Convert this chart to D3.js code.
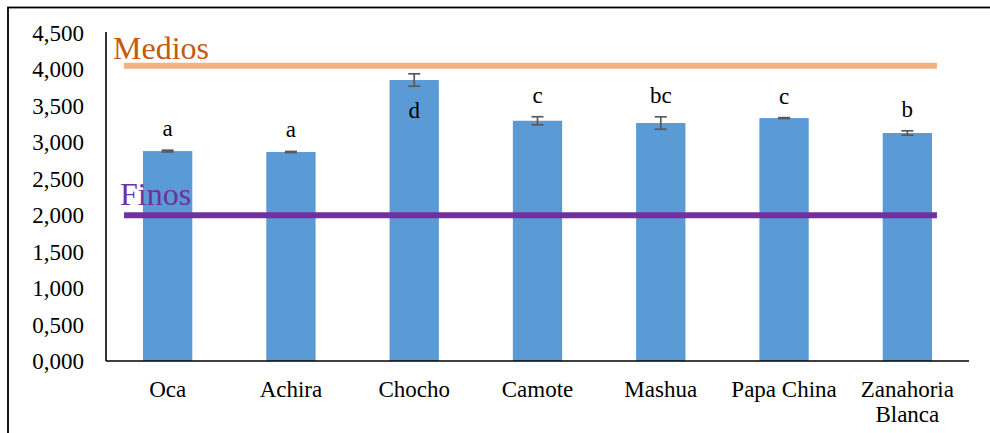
<!DOCTYPE html>
<html>
<head>
<meta charset="utf-8">
<script src="https://cdn.jsdelivr.net/npm/d3@7"></script>
</head>
<body style="margin:0;padding:0;background:#fff">
<svg id="chart" width="990" height="433"></svg>
<script>
// Cultivos evaluados, valor medio, desviación y letra de agrupación
const categories = ["Oca", "Achira", "Chocho", "Camote", "Mashua", "Papa China", "Zanahoria Blanca"];
const values     = [2.880, 2.867, 3.855, 3.296, 3.265, 3.333, 3.128];
const errors     = [0.012, 0.008, 0.085, 0.055, 0.085, 0.006, 0.030];
const groups     = ["a", "a", "d", "c", "bc", "c", "b"];
const yTicks     = [0, 0.5, 1, 1.5, 2, 2.5, 3, 3.5, 4, 4.5];

// Límites de clasificación
const thresholds = [
  { name: "Medios", value: 4.05, line: "#F4B183", text: "#C55A11" },
  { name: "Finos",  value: 2.00, line: "#7030A0", text: "#7030A0" }
];

const FONT = "Liberation Serif";
const svg = d3.select("#chart");
const W = 990, H = 433;
const plot = { left: 106, right: 969, top: 33, bottom: 361 };

const x = d3.scaleBand().domain(categories).range([plot.left, plot.right]).padding(0);
const y = d3.scaleLinear().domain([0, 4.5]).range([plot.bottom, plot.top]);

const es = d3.formatLocale({ decimal: ",", thousands: ".", grouping: [3], currency: ["", ""] });
const fmt = es.format(".3f");

// Texto con tipografía serif
function label(parent, str, size, fill) {
  return parent.append("text")
    .style("font-family", FONT)
    .style("font-size", size + "px")
    .attr("fill", fill)
    .text(str);
}

// Marco exterior
svg.append("rect")
  .attr("x", 8).attr("y", 7.5)
  .attr("width", W + 20).attr("height", H + 20)
  .attr("fill", "none").attr("stroke", "#000").attr("stroke-width", 1.8);

// Etiquetas del eje Y
const yg = svg.append("g");
yTicks.forEach(t => {
  label(yg, fmt(t), 23, "#000")
    .attr("x", plot.left - 22).attr("y", y(t) + 8);
});
yg.selectAll("text").attr("text-anchor", "end");

// Barras
const barW = x.bandwidth() * 0.4;
const cx = d => x(d) + x.bandwidth() / 2;
const data = categories.map((c, i) => ({ c, v: values[i], e: errors[i], g: groups[i] }));

svg.append("g").selectAll("rect").data(data).join("rect")
  .attr("x", d => cx(d.c) - barW / 2)
  .attr("y", d => y(d.v))
  .attr("width", barW)
  .attr("height", d => y(0) - y(d.v))
  .attr("fill", "#5B9BD5");

// Líneas de clasificación
const lx1 = x(categories[0]) + 0.146 * x.step();
const lx2 = x(categories[categories.length - 1]) + x.bandwidth() - 0.26 * x.step();
thresholds.forEach(t => {
  svg.append("line")
    .attr("x1", lx1).attr("x2", lx2)
    .attr("y1", y(t.value)).attr("y2", y(t.value))
    .attr("stroke", t.line).attr("stroke-width", 6);
});
label(svg, thresholds[0].name, 32, thresholds[0].text)
  .attr("x", lx1 - 11).attr("y", y(thresholds[0].value) - 6.5);
label(svg, thresholds[1].name, 32, thresholds[1].text)
  .attr("x", lx1 - 4).attr("y", y(thresholds[1].value) - 10.5);

// Barras de error
const capW = 6;
const eg = svg.append("g").attr("stroke", "#595959").attr("stroke-width", 1.7);
data.forEach(d => {
  const xc = cx(d.c), yt = y(d.v + d.e), yb = y(d.v - d.e);
  eg.append("line").attr("x1", xc).attr("x2", xc).attr("y1", yt).attr("y2", yb);
  eg.append("line").attr("x1", xc - capW).attr("x2", xc + capW).attr("y1", yt).attr("y2", yt);
  eg.append("line").attr("x1", xc - capW).attr("x2", xc + capW).attr("y1", yb).attr("y2", yb);
});

// Letras de significancia: encima del error, o dentro de la barra si chocan con "Medios"
const medY = y(thresholds[0].value);
const lg = svg.append("g");
data.forEach(d => {
  const above = y(d.v + d.e) - 14;
  const ly = (above - 16 < medY + 4) ? y(d.v - d.e) + 32 : above;
  label(lg, d.g, 23, "#000")
    .attr("x", cx(d.c)).attr("y", ly)
    .attr("text-anchor", "middle");
});

// Ejes
svg.append("line")
  .attr("x1", plot.left).attr("x2", plot.left)
  .attr("y1", plot.top - 1).attr("y2", plot.bottom)
  .attr("stroke", "#000").attr("stroke-width", 1.6);
svg.append("line")
  .attr("x1", plot.left).attr("x2", plot.right)
  .attr("y1", plot.bottom).attr("y2", plot.bottom)
  .attr("stroke", "#000").attr("stroke-width", 1.6);

// Etiquetas de categoría (dos renglones para nombres compuestos largos)
const xg = svg.append("g");
categories.forEach(c => {
  const words = c === "Zanahoria Blanca" ? ["Zanahoria", "Blanca"] : [c];
  words.forEach((w, i) => {
    label(xg, w, 23, "#000")
      .attr("x", cx(c)).attr("y", 396.5 + i * 25.5)
      .attr("text-anchor", "middle");
  });
});
</script>
</body>
</html>
